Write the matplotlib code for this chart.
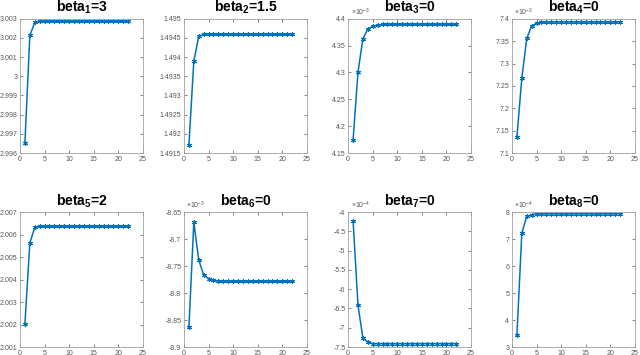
import matplotlib
matplotlib.use("Agg")
import matplotlib.pyplot as plt
from matplotlib.ticker import FuncFormatter, MultipleLocator
import numpy as np

plt.rcParams['font.family'] = ['Liberation Sans', 'DejaVu Sans']
plt.rcParams['mathtext.fontset'] = 'custom'
plt.rcParams['mathtext.rm'] = 'Liberation Sans'
plt.rcParams['mathtext.bf'] = 'Liberation Sans:bold'

# iterasi 1..22
iters = np.arange(1, 23)

# nilai estimasi tiap beta
beta1 = [2.99654, 3.00213, 3.00281] + [3.00287] * 19
beta2 = [1.49171, 1.49390, 1.49454] + [1.49460] * 19
beta3 = [4.174e-3, 4.301e-3, 4.363e-3, 4.381e-3, 4.386e-3, 4.388e-3] + [4.3895e-3] * 16
beta4 = [7.136e-3, 7.2675e-3, 7.356e-3, 7.384e-3, 7.390e-3, 7.392e-3] + [7.393e-3] * 16
beta5 = [2.00203, 2.00563, 2.00632] + [2.00637] * 19
beta6 = [-8.863e-3, -8.669e-3, -8.739e-3, -8.766e-3, -8.7735e-3, -8.776e-3] + [-8.778e-3] * 16
beta7 = [-4.22e-4, -6.42e-4, -7.27e-4, -7.37e-4] + [-7.41e-4] * 18
beta8 = [3.45e-4, 7.22e-4, 7.84e-4, 7.90e-4] + [7.94e-4] * 18

series = [beta1, beta2, beta3, beta4, beta5, beta6, beta7, beta8]
titles = [r'beta$_{\mathbf{1}}$=3', r'beta$_{\mathbf{2}}$=1.5', r'beta$_{\mathbf{3}}$=0',
          r'beta$_{\mathbf{4}}$=0', r'beta$_{\mathbf{5}}$=2', r'beta$_{\mathbf{6}}$=0',
          r'beta$_{\mathbf{7}}$=0', r'beta$_{\mathbf{8}}$=0']
ylims = [(2.996, 3.003), (1.4915, 1.495), (4.15e-3, 4.4e-3), (7.1e-3, 7.4e-3),
         (2.001, 2.007), (-8.9e-3, -8.65e-3), (-7.5e-4, -4e-4), (3e-4, 8e-4)]
ysteps = [0.001, 0.0005, 0.05e-3, 0.05e-3, 0.001, 0.05e-3, 0.5e-4, 1e-4]
skala = [0, 0, -3, -3, 0, -3, -4, -4]

biru = '#0072BD'
abu = '#555555'

fig = plt.figure(figsize=(6.4, 3.55), dpi=100)
lefts = [0.03125, 0.2875, 0.544, 0.8]
posisi = [(l, 0.569, 0.192, 0.378) for l in lefts] + [(l, 0.0225, 0.192, 0.380) for l in lefts]

for i in range(8):
    ax = fig.add_axes(posisi[i])
    ax.plot(iters, series[i], color=biru, lw=1.1, marker=(6, 2, 0), ms=3.5, mew=0.8)
    ax.set_xlim(0, 25)
    ax.set_ylim(*ylims[i])
    ax.xaxis.set_major_locator(MultipleLocator(5))
    ax.yaxis.set_major_locator(MultipleLocator(ysteps[i]))
    e = skala[i]
    ax.yaxis.set_major_formatter(FuncFormatter(lambda v, p, e=e: '%g' % round(v / 10.0 ** e, 6)))
    ax.tick_params(direction='in', length=2, width=0.5, labelsize=5, colors=abu,
                   top=True, right=True, pad=2)
    for s in ax.spines.values():
        s.set_color('#a0a0a0')
        s.set_linewidth(0.6)
    ax.set_title(titles[i], fontsize=10, fontweight='bold', pad=5)
    if e != 0:
        ax.text(0.02, 1.005, r'$\times$10$^{%d}$' % e, transform=ax.transAxes,
                fontsize=5, color=abu, ha='left', va='bottom')

fig.savefig('out.png', dpi=100)
